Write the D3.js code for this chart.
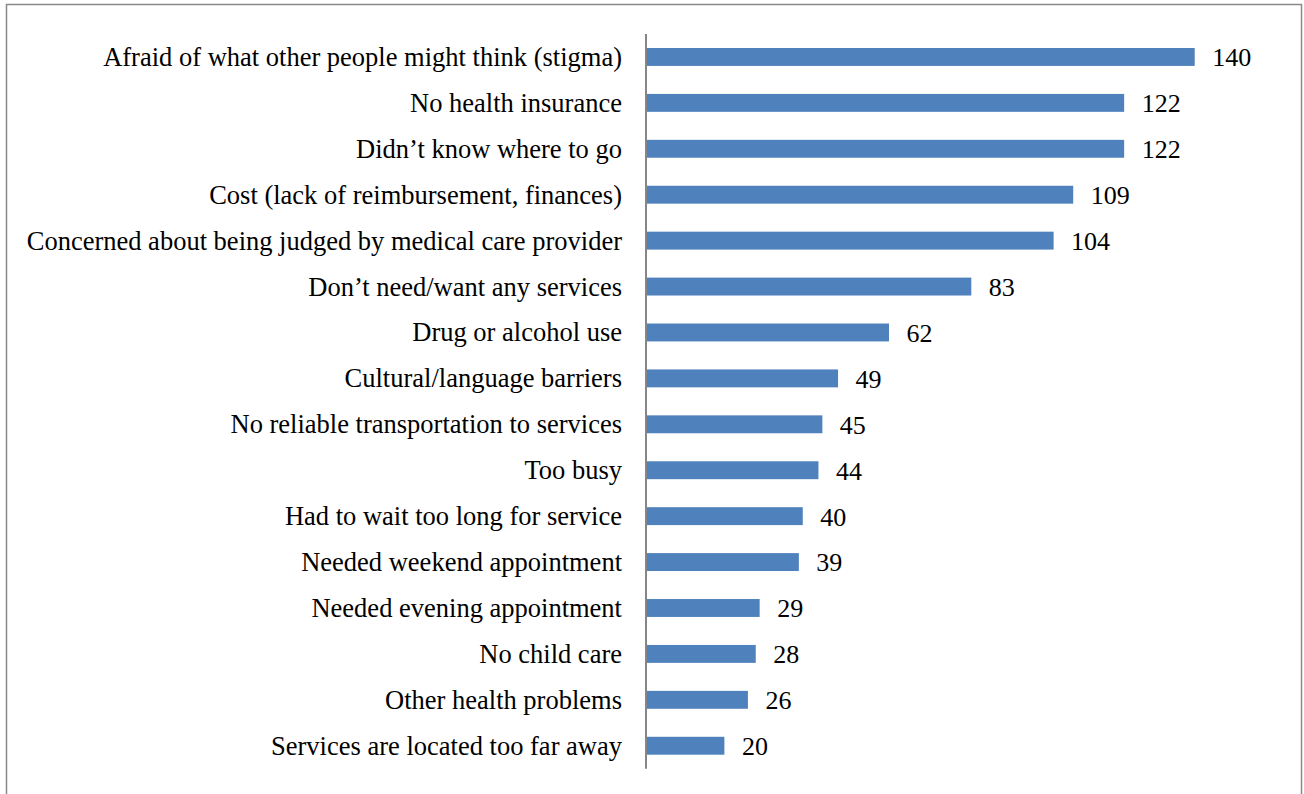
<!DOCTYPE html>
<html>
<head>
<meta charset="utf-8">
<script src="https://cdn.jsdelivr.net/npm/d3@7"></script>
<style>
  html, body { margin: 0; padding: 0; background: #fff; }
  svg { display: block; }
</style>
</head>
<body>
<svg id="chart" width="1304" height="794"></svg>
<script>
// Reasons for not seeking services (count of respondents)
const categories = [
  "Afraid of what other people might think (stigma)",
  "No health insurance",
  "Didn\u2019t know where to go",
  "Cost (lack of reimbursement, finances)",
  "Concerned about being judged by medical care provider",
  "Don\u2019t need/want any services",
  "Drug or alcohol use",
  "Cultural/language barriers",
  "No reliable transportation to services",
  "Too busy",
  "Had to wait too long for service",
  "Needed weekend appointment",
  "Needed evening appointment",
  "No child care",
  "Other health problems",
  "Services are located too far away"
];
const values = [140, 122, 122, 109, 104, 83, 62, 49, 45, 44, 40, 39, 29, 28, 26, 20];

const svg = d3.select("#chart");
const font = "'Liberation Serif', 'Times New Roman', serif";

// outer frame
svg.append("rect")
  .attr("x", 6.5).attr("y", 4.5)
  .attr("width", 1295).attr("height", 800)
  .attr("fill", "none").attr("stroke", "#898989").attr("stroke-width", 1.5);

const x0 = 646;
const x = d3.scaleLinear().domain([0, 140]).range([x0, 1194.7]);
const y = d3.scaleBand().domain(categories).range([34, 768.7]).paddingInner(0.61).paddingOuter(0.305);

const data = categories.map((c, i) => ({ c, v: values[i] }));

svg.append("g").selectAll("rect").data(data).join("rect")
  .attr("x", x(0))
  .attr("y", d => y(d.c))
  .attr("width", d => x(d.v) - x(0))
  .attr("height", y.bandwidth())
  .attr("fill", "#4F81BD");

// category axis
const axis = d3.axisLeft(y).tickSize(0).tickPadding(24);
const gA = svg.append("g").attr("transform", `translate(${x0},0)`).call(axis);
gA.select(".domain").attr("stroke", "#868686").attr("stroke-width", 2).attr("d", `M0,34V768.7`);
gA.selectAll("text")
  .attr("font-family", font).attr("font-size", 26.5).attr("fill", "#000")
  .attr("dy", "0.34em");

// value labels
svg.append("g").selectAll("text").data(data).join("text")
  .attr("x", d => x(d.v) + 17.5)
  .attr("y", d => y(d.c) + y.bandwidth() / 2)
  .attr("dy", "0.36em")
  .attr("font-family", font).attr("font-size", 26).attr("fill", "#000")
  .text(d => d.v);
</script>
</body>
</html>
